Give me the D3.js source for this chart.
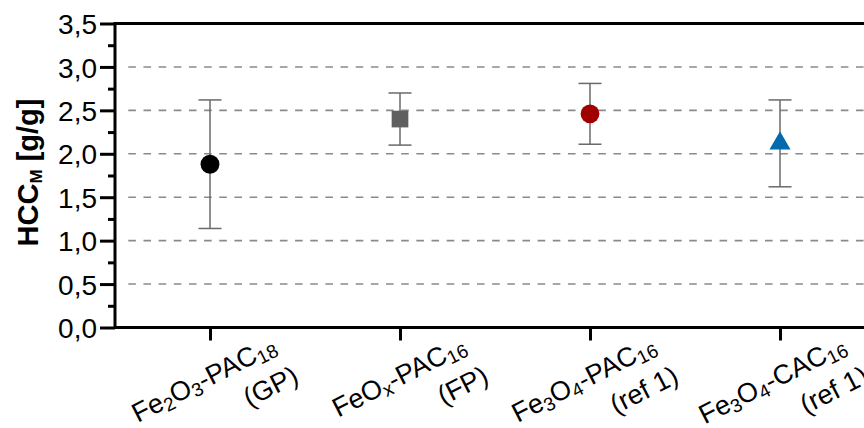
<!DOCTYPE html>
<html>
<head>
<meta charset="utf-8">
<script src="https://cdn.jsdelivr.net/npm/d3@7"></script>
<style>
  html, body { margin: 0; padding: 0; background: #fff; }
  svg { display: block; font-family: "Liberation Sans", Arial, sans-serif; }
</style>
</head>
<body>
<svg id="chart" width="864" height="428"></svg>
<script>
// Samples: main formula parts (text, subscript) and the source note on the second line
const categories = ["Fe2O3-PAC18 (GP)", "FeOx-PAC16 (FP)", "Fe3O4-PAC16 (ref 1)", "Fe3O4-CAC16 (ref 1)"];
const labelLine1 = [
  [["Fe", ""], ["2", "sub"], ["O", ""], ["3", "sub"], ["-PAC", ""], ["18", "sub"]],
  [["FeO", ""], ["x", "sub"], ["-PAC", ""], ["16", "sub"]],
  [["Fe", ""], ["3", "sub"], ["O", ""], ["4", "sub"], ["-PAC", ""], ["16", "sub"]],
  [["Fe", ""], ["3", "sub"], ["O", ""], ["4", "sub"], ["-CAC", ""], ["16", "sub"]]
];
const labelLine2 = ["(GP)", "(FP)", "(ref 1)", "(ref 1)"];
// Mean HCC_M and its error (g/g)
const hccValues = [1.88, 2.40, 2.46, 2.12];
const hccErrors = [0.74, 0.30, 0.35, 0.50];
const markerShapes = ["circle", "square", "circle", "triangle"];
const markerColors = ["#000000", "#5f5f5f", "#a00000", "#0569ad"];
const yTicks = [0, 0.5, 1.0, 1.5, 2.0, 2.5, 3.0, 3.5];
const yGrid = [0.5, 1.0, 1.5, 2.0, 2.5, 3.0];

const svg = d3.select("#chart");
const plotLeft = 115, plotRight = 875, plotTop = 23.5, plotBottom = 327.5;

const x = d3.scalePoint().domain(categories).range([plotLeft, plotRight]).padding(0.5);
const y = d3.scaleLinear().domain([0, 3.5]).range([plotBottom, plotTop]);

// Dashed horizontal grid
svg.append("g").selectAll("line").data(yGrid).join("line")
  .attr("x1", plotLeft + 6).attr("x2", plotRight)
  .attr("y1", d => y(d)).attr("y2", d => y(d))
  .attr("stroke", "#8a8a8a").attr("stroke-width", 1.6)
  .attr("stroke-dasharray", "7.6,7.56").attr("stroke-dashoffset", 7.86);

// Error bars
const capHalf = 11.5;
const eb = svg.append("g").attr("stroke", "#6a6a6a").attr("stroke-width", 1.5);
categories.forEach((c, i) => {
  const cx = x(c), hi = y(hccValues[i] + hccErrors[i]), lo = y(hccValues[i] - hccErrors[i]);
  eb.append("line").attr("x1", cx).attr("x2", cx).attr("y1", hi).attr("y2", lo);
  eb.append("line").attr("x1", cx - capHalf).attr("x2", cx + capHalf).attr("y1", hi).attr("y2", hi);
  eb.append("line").attr("x1", cx - capHalf).attr("x2", cx + capHalf).attr("y1", lo).attr("y2", lo);
});

// Markers
const symbolTypes = { circle: d3.symbolCircle, square: d3.symbolSquare, triangle: d3.symbolTriangle };
const symbolSizes = { circle: 280, square: 279, triangle: 193 };
svg.append("g").selectAll("path").data(categories).join("path")
  .attr("transform", (c, i) => `translate(${x(c)},${y(hccValues[i])})`)
  .attr("d", (c, i) => d3.symbol().type(symbolTypes[markerShapes[i]]).size(symbolSizes[markerShapes[i]])())
  .attr("fill", (c, i) => markerColors[i]);

// Y axis: major ticks with labels, minor ticks in between
const fmt = d => d3.format(".1f")(d).replace(".", ",");
const yAxis = svg.append("g").attr("transform", `translate(${plotLeft},0)`)
  .call(d3.axisLeft(y).tickValues(yTicks).tickSize(15).tickPadding(3).tickFormat(fmt));
yAxis.select(".domain").remove();
yAxis.selectAll(".tick line").attr("stroke", "#000").attr("stroke-width", 3);
yAxis.selectAll(".tick text").attr("font-size", 28).attr("fill", "#000")
  .attr("font-family", "Liberation Sans, Arial, sans-serif").attr("dy", "0.36em");

const minorTicks = d3.range(0.25, 3.5, 0.5);
const yMinor = svg.append("g").attr("transform", `translate(${plotLeft},0)`)
  .call(d3.axisLeft(y).tickValues(minorTicks).tickSize(7).tickFormat(""));
yMinor.select(".domain").remove();
yMinor.selectAll(".tick line").attr("stroke", "#000").attr("stroke-width", 3);

// X axis ticks
const xAxis = svg.append("g").attr("transform", `translate(0,${plotBottom})`)
  .call(d3.axisBottom(x).tickSize(13).tickFormat(""));
xAxis.select(".domain").remove();
xAxis.selectAll(".tick line").attr("stroke", "#000").attr("stroke-width", 3);

// Frame
svg.append("rect").attr("x", plotLeft).attr("y", plotTop)
  .attr("width", plotRight - plotLeft).attr("height", plotBottom - plotTop)
  .attr("fill", "none").attr("stroke", "#000").attr("stroke-width", 3);

// Rotated two-line category labels
const labels = svg.append("g").attr("font-size", 27).attr("fill", "#000");
categories.forEach((c, i) => {
  const g = labels.append("g")
    .attr("transform", `translate(${x(c) + 68},${plotBottom + 24}) rotate(-27)`);
  const t1 = g.append("text").attr("text-anchor", "end");
  let prevSub = false;
  labelLine1[i].forEach(([txt, kind]) => {
    const isSub = kind === "sub";
    const ts = t1.append("tspan").text(txt);
    if (isSub) ts.attr("font-size", 19);
    if (isSub && !prevSub) ts.attr("dy", 4);
    if (!isSub && prevSub) ts.attr("dy", -4);
    prevSub = isSub;
  });
  g.append("text").attr("text-anchor", "end").attr("x", 6).attr("y", 37).text(labelLine2[i]);
});

// Y axis title
const title = svg.append("text")
  .attr("transform", `translate(38,${(plotTop + plotBottom) / 2 - 3}) rotate(-90)`)
  .attr("text-anchor", "middle").attr("font-size", 29).attr("font-weight", "bold").attr("fill", "#000");
title.append("tspan").text("HCC");
title.append("tspan").attr("font-size", 17).attr("dy", 4).text("M");
title.append("tspan").attr("dy", -4).text(" [g/g]");
</script>
</body>
</html>
